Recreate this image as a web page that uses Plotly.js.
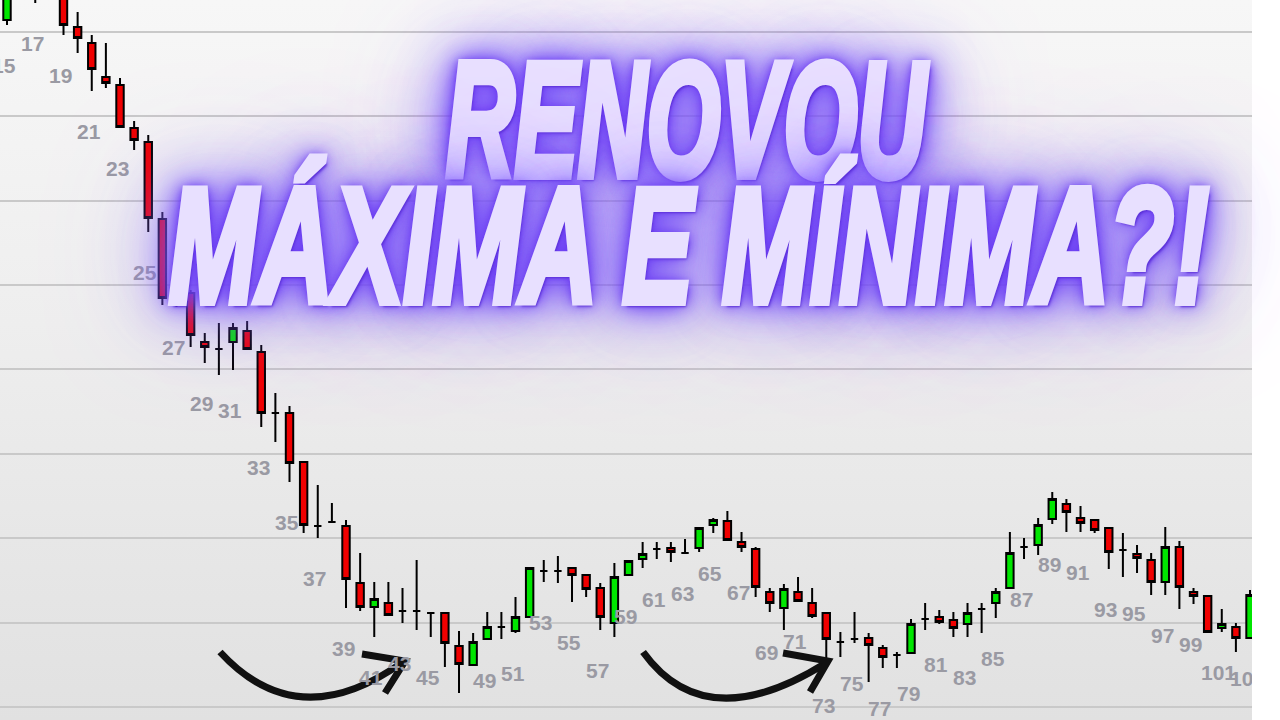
<!DOCTYPE html>
<html><head><meta charset="utf-8">
<script src="https://cdn.plot.ly/plotly-3.0.1.min.js"></script>
<style>
html,body{margin:0;padding:0;background:#fff;width:1280px;height:720px;overflow:hidden;}
#bg{position:absolute;left:0;top:0;width:1252px;height:720px;background:linear-gradient(#f7f7f7 0%,#eeeeee 45%,#e1e1e1 100%);}
#chart{position:absolute;left:0;top:0;width:1280px;height:720px;}
#edge{position:absolute;left:1252px;top:0;width:28px;height:720px;background:#fff;}
.ttl{position:absolute;left:0;top:0;white-space:nowrap;font-family:"Liberation Sans Narrow","Liberation Sans","DejaVu Sans Condensed",sans-serif;font-weight:700;font-style:italic;font-size:164px;line-height:164px;color:#e8e0ff;transform-origin:0 0;pointer-events:none;letter-spacing:0px;
-webkit-text-stroke:8px #e8e0ff;
text-shadow:4px 5px 3px #5a2fd8,0 0 8px #6535ee,0 0 14px #6838f0,0 0 24px #6e40f4,0 0 40px rgba(112,72,246,1),0 0 60px rgba(120,84,250,1),0 0 95px rgba(138,106,255,.95),0 0 150px rgba(160,130,255,.8);}
</style></head>
<body>
<div id="bg"></div>
<div id="chart"></div>
<div id="edge"></div>
<div class="ttl" id="t1">RENOVOU</div>
<div class="ttl" id="t2">MÁXIMA E MÍNIMA?!</div>
<script>
// bar numbers
const bars = [15,16,17,18,19,20,21,22,23,24,25,26,27,28,29,30,31,32,33,34,35,36,37,38,39,40,41,42,43,44,45,46,47,48,49,50,51,52,53,54,55,56,57,58,59,60,61,62,63,64,65,66,67,68,69,70,71,72,73,74,75,76,77,78,79,80,81,82,83,84,85,86,87,88,89,90,91,92,93,94,95,96,97,98,99,100,101,102,103];
const openP = [780,825,812,815,805,773,757,723,715,672,658,581,501,507,458,451,458,469,448,387,387,338,274,278,274,217,193,197,189,189,187,187,154,135,161,173,169,183,229,229,232,225,212,177,225,241,251,252,247,252,275,279,258,251,208,192,208,197,187,158,161,162,152,145,147,181,183,180,176,191,197,212,253,255,281,296,282,280,272,250,246,240,218,253,208,204,172,173,162];
const highP = [820,835,818,820,810,788,765,757,722,679,665,588,503,510,467,477,477,479,455,407,394,339,315,297,280,247,218,218,212,240,188,188,169,167,188,188,203,233,240,244,233,226,217,237,240,258,258,258,261,273,282,289,268,253,212,216,223,212,188,168,188,167,155,148,181,197,190,188,197,197,212,268,262,282,308,301,294,281,273,267,255,247,273,259,212,205,191,177,210];
const lowP  = [775,808,797,802,765,747,709,712,672,650,568,495,493,453,437,425,430,450,373,358,318,267,262,277,192,189,163,185,177,170,163,133,107,135,160,161,167,183,218,217,198,203,170,163,224,232,241,238,247,248,267,259,248,203,188,170,199,182,135,143,157,118,132,132,147,170,176,163,163,167,182,212,241,245,276,268,268,267,231,223,227,205,205,191,196,167,168,148,162];
const closeP= [810,812,806,805,775,762,731,717,673,660,582,502,500,465,453,451,472,451,387,387,337,275,274,278,221,193,201,185,189,189,187,157,136,158,173,173,183,232,229,229,225,211,183,223,239,246,251,248,247,272,280,260,253,213,197,211,199,184,161,158,161,155,143,145,176,181,178,172,187,191,208,247,253,275,301,288,277,270,248,250,242,218,253,213,204,168,176,162,205];
// hand-drawn arrows (bar index, price)
const arrowCurves = [
  {x0:30.08,y0:148,cx:35.6,cy:63,x1:43.03,y1:138},
  {x0:60.03,y0:148,cx:64.45,cy:61.5,x1:72.98,y1:137}
];
const arrowHeads = [
  {ax:40.13,ay:146,tx:43.18,ty:139,bx:41.76,by:107},
  {ax:69.94,ay:147,tx:73.12,ty:139,bx:71.85,by:108}
];

const trace = {
  type:'candlestick', x:bars, open:openP, high:highP, low:lowP, close:closeP,
  increasing:{line:{color:'#000',width:2},fillcolor:'#00e600'},
  decreasing:{line:{color:'#000',width:2},fillcolor:'#f00000'},
  hoverinfo:'skip', showlegend:false
};

const annotations = [];
bars.forEach((b,i)=>{
  if(b%2===1){
    annotations.push({x:b,y:lowP[i],xref:'x',yref:'y',text:String(b),showarrow:false,
      xanchor:'center',yanchor:'top',xshift:-3,yshift:-27,
      font:{family:'Liberation Sans, Arial, sans-serif',size:21,color:'#9a9aa3',weight:700}});
  }
});

const shapes = [];
arrowCurves.forEach(a=>shapes.push({type:'path',xref:'x',yref:'y',
  path:`M${a.x0},${a.y0} Q${a.cx},${a.cy} ${a.x1},${a.y1}`,line:{color:'#111',width:7}}));
arrowHeads.forEach(h=>shapes.push({type:'path',xref:'x',yref:'y',
  path:`M${h.ax},${h.ay} L${h.tx},${h.ty} L${h.bx},${h.by}`,line:{color:'#111',width:7}}));

const layout = {
  width:1280,height:720,margin:{l:0,r:28,t:0,b:0},
  paper_bgcolor:'rgba(0,0,0,0)',plot_bgcolor:'rgba(0,0,0,0)',
  showlegend:false, boxgap:0.25,
  xaxis:{range:[14.504,103.14],showgrid:false,zeroline:false,showticklabels:false,ticks:'',showline:false,rangeslider:{visible:false},fixedrange:true},
  yaxis:{range:[80,800],showgrid:true,gridcolor:'#c9c9c9',gridwidth:2,tick0:93,dtick:84.4,zeroline:false,showticklabels:false,ticks:'',showline:false,fixedrange:true},
  annotations:annotations, shapes:shapes
};

Plotly.newPlot('chart',[trace],layout,{displayModeBar:false,staticPlot:true}).then(()=>{
  const fs=164;
  function fit(id,left,capTop,width){
    const el=document.getElementById(id);
    el.style.left=left+'px';
    el.style.top=(capTop-0.13*fs)+'px';
    el.style.transform='none';
    const w=el.getBoundingClientRect().width;
    el.style.transform='scaleX('+(width/w)+')';
  }
  const go=()=>{fit('t1',446,59,480);fit('t2',169,185,1040);};
  if(document.fonts&&document.fonts.ready){document.fonts.ready.then(go);}else{go();}
});
</script>
</body></html>
